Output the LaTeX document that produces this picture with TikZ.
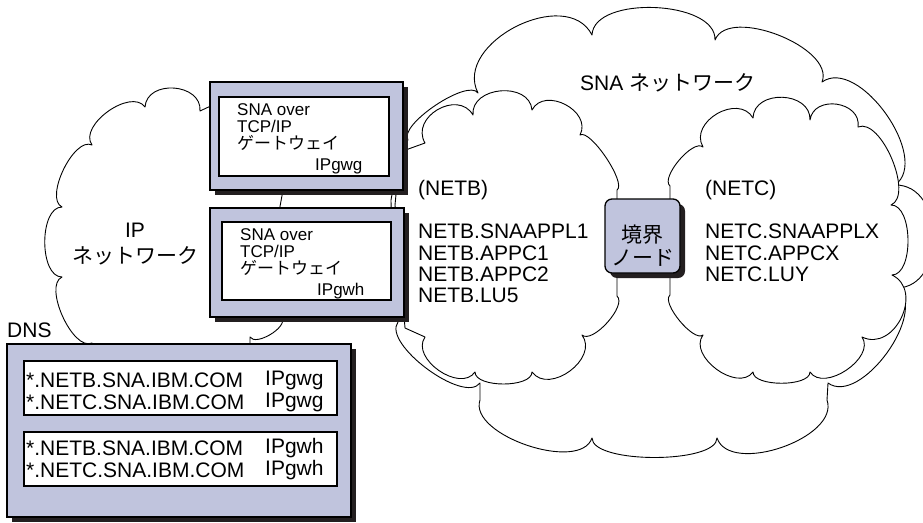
\documentclass[tikz,border=0pt]{standalone}
\usepackage{fontspec}
\setmainfont{Liberation Sans}
\newfontfamily\jp{Noto Sans CJK JP}
\usetikzlibrary{calc,shadows}
\definecolor{lav}{RGB}{192,196,221}
\definecolor{shd}{RGB}{35,31,32}
\begin{document}
\begin{tikzpicture}[x=1pt,y=-1pt,
  cb/.style={to path={.. controls ($(\tikztostart)!#1pt!90:(\tikztotarget)$) and ($(\tikztotarget)!#1pt!-90:(\tikztostart)$) .. (\tikztotarget)}},
  cloudline/.style={draw=black, fill=white, line width=0.9pt, line join=round},
  outerbox/.style={draw=black, fill=lav, line width=1.3pt, inner sep=0pt,
    general shadow={fill=shd, shadow xshift=5pt, shadow yshift=-5pt}},
  innerbox/.style={draw=black, fill=white, line width=1.2pt, inner sep=0pt},
  lbl/.style={inner sep=0pt, anchor=west, align=left},
  fbig/.style={font=\fontsize{21}{21.3}\selectfont},
  fsmall/.style={font=\fontsize{17}{17}\selectfont},
]
\useasboundingbox (0,0) rectangle (923,522);
\clip (0,0) rectangle (923,522);

% big SNA cloud
\path[cloudline] (398,322) -- (392,260) -- (391,200) -- (400,150) -- (408,140)
  to[cb=18] (478,93) to[cb=56] (592,35) to[cb=40] (715,40) to[cb=37] (822,82)
  to[cb=45] (895,185) to[cb=50] (897,288) to[cb=40] (828,383) -- (827,400)
  to[cb=40] (717,438) to[cb=26] (592,438) to[cb=37] (480,400) -- (480,383)
  to[cb=27] (398,322) -- cycle;

% NETB cloud
\path[cloudline] (400,152) -- (425,143) to[cb=30] (473,115) to[cb=29] (532,110)
  to[cb=27] (580,135) to[cb=12] (617,190) -- (617,296) to[cb=14] (582,335)
  to[cb=29] (532,372) to[cb=16] (475,372) to[cb=26] (425,337) -- (405,328)
  -- (395,205) -- cycle;

% NETC cloud
\path[cloudline] (670,200) -- (670,186) to[cb=13] (703,147) to[cb=29] (753,118)
  to[cb=29] (810,120) to[cb=26] (858,127) to[cb=25] (891,205) to[cb=22] (892,275)
  to[cb=36] (862,337) to[cb=25] (810,372) to[cb=15] (753,372) to[cb=26] (703,335)
  to[cb=12] (670,295) -- cycle;

% IP cloud
\path[cloudline] (92,352) -- (92,343) to[cb=21] (62,277) to[cb=23] (62,207)
  to[cb=20] (92,145) to[cb=24] (145,107) to[cb=28] (200,111) -- (215,104)
  -- (283,190) -- (279,212) -- (282,318) to[cb=11] (250,337) -- (250,352) -- cycle;

% gateway g
\node[outerbox, minimum width=193pt, minimum height=108pt] (gwg) at (306.5,136) {};
\node[innerbox, minimum width=170pt, minimum height=79pt] (gwgi) at (304,136.5) {};
\node[lbl,fsmall] (gwgt) at (237,127) {SNA over\\TCP/IP\\{\jp ゲートウェイ}};
\node[lbl,fsmall] (gwgn) at (315,166) {IPgwg};

% gateway h
\node[outerbox, minimum width=194pt, minimum height=109pt] (gwh) at (307,262.5) {};
\node[innerbox, minimum width=169pt, minimum height=78pt] (gwhi) at (306.5,261) {};
\node[lbl,fsmall] (gwht) at (240,252) {SNA over\\TCP/IP\\{\jp ゲートウェイ}};
\node[lbl,fsmall] (gwhn) at (317,291) {IPgwh};

% DNS
\node[lbl,fbig] (dnsl) at (7,330) {DNS};
\node[outerbox, minimum width=344pt, minimum height=173pt] (dns) at (179,430.5) {};
\node[innerbox, minimum width=313pt, minimum height=54pt] (dns1) at (180.5,388) {};
\node[innerbox, minimum width=313pt, minimum height=54pt] (dns2) at (180.5,459) {};
\node[lbl,font=\fontsize{21}{22}\selectfont] (d1a) at (26,391) {*.NETB.SNA.IBM.COM\\*.NETC.SNA.IBM.COM};
\node[lbl,font=\fontsize{21}{22}\selectfont] (d1b) at (265,391) {IPgwg\\IPgwg};
\node[lbl,font=\fontsize{21}{22}\selectfont] (d2a) at (26,459.5) {*.NETB.SNA.IBM.COM\\*.NETC.SNA.IBM.COM};
\node[lbl,font=\fontsize{21}{22}\selectfont] (d2b) at (265,459.5) {IPgwh\\IPgwh};

% border node
\node[outerbox, rounded corners=7pt, minimum width=75pt, minimum height=74pt] (bn) at (642.5,236) {};
\node[inner sep=0pt, align=center, font=\fontsize{21}{23}\selectfont] (bnt) at (642.5,246) {{\jp 境界}\\{\jp ノード}};

% labels
\node[inner sep=0pt, align=center, font=\fontsize{21}{26}\selectfont] (ipl) at (135,244) {IP\\{\jp ネットワーク}};
\node[lbl,fbig] (snal) at (580,83) {SNA {\jp ネットワーク}};
\node[lbl,fbig] (netbh) at (418,190) {(NETB)};
\node[lbl,fbig] (netbl) at (418,263.5) {NETB.SNAAPPL1\\NETB.APPC1\\NETB.APPC2\\NETB.LU5};
\node[lbl,fbig] (netch) at (705,190) {(NETC)};
\node[lbl,fbig] (netcl) at (705,253) {NETC.SNAAPPLX\\NETC.APPCX\\NETC.LUY};
\end{tikzpicture}
\end{document}
